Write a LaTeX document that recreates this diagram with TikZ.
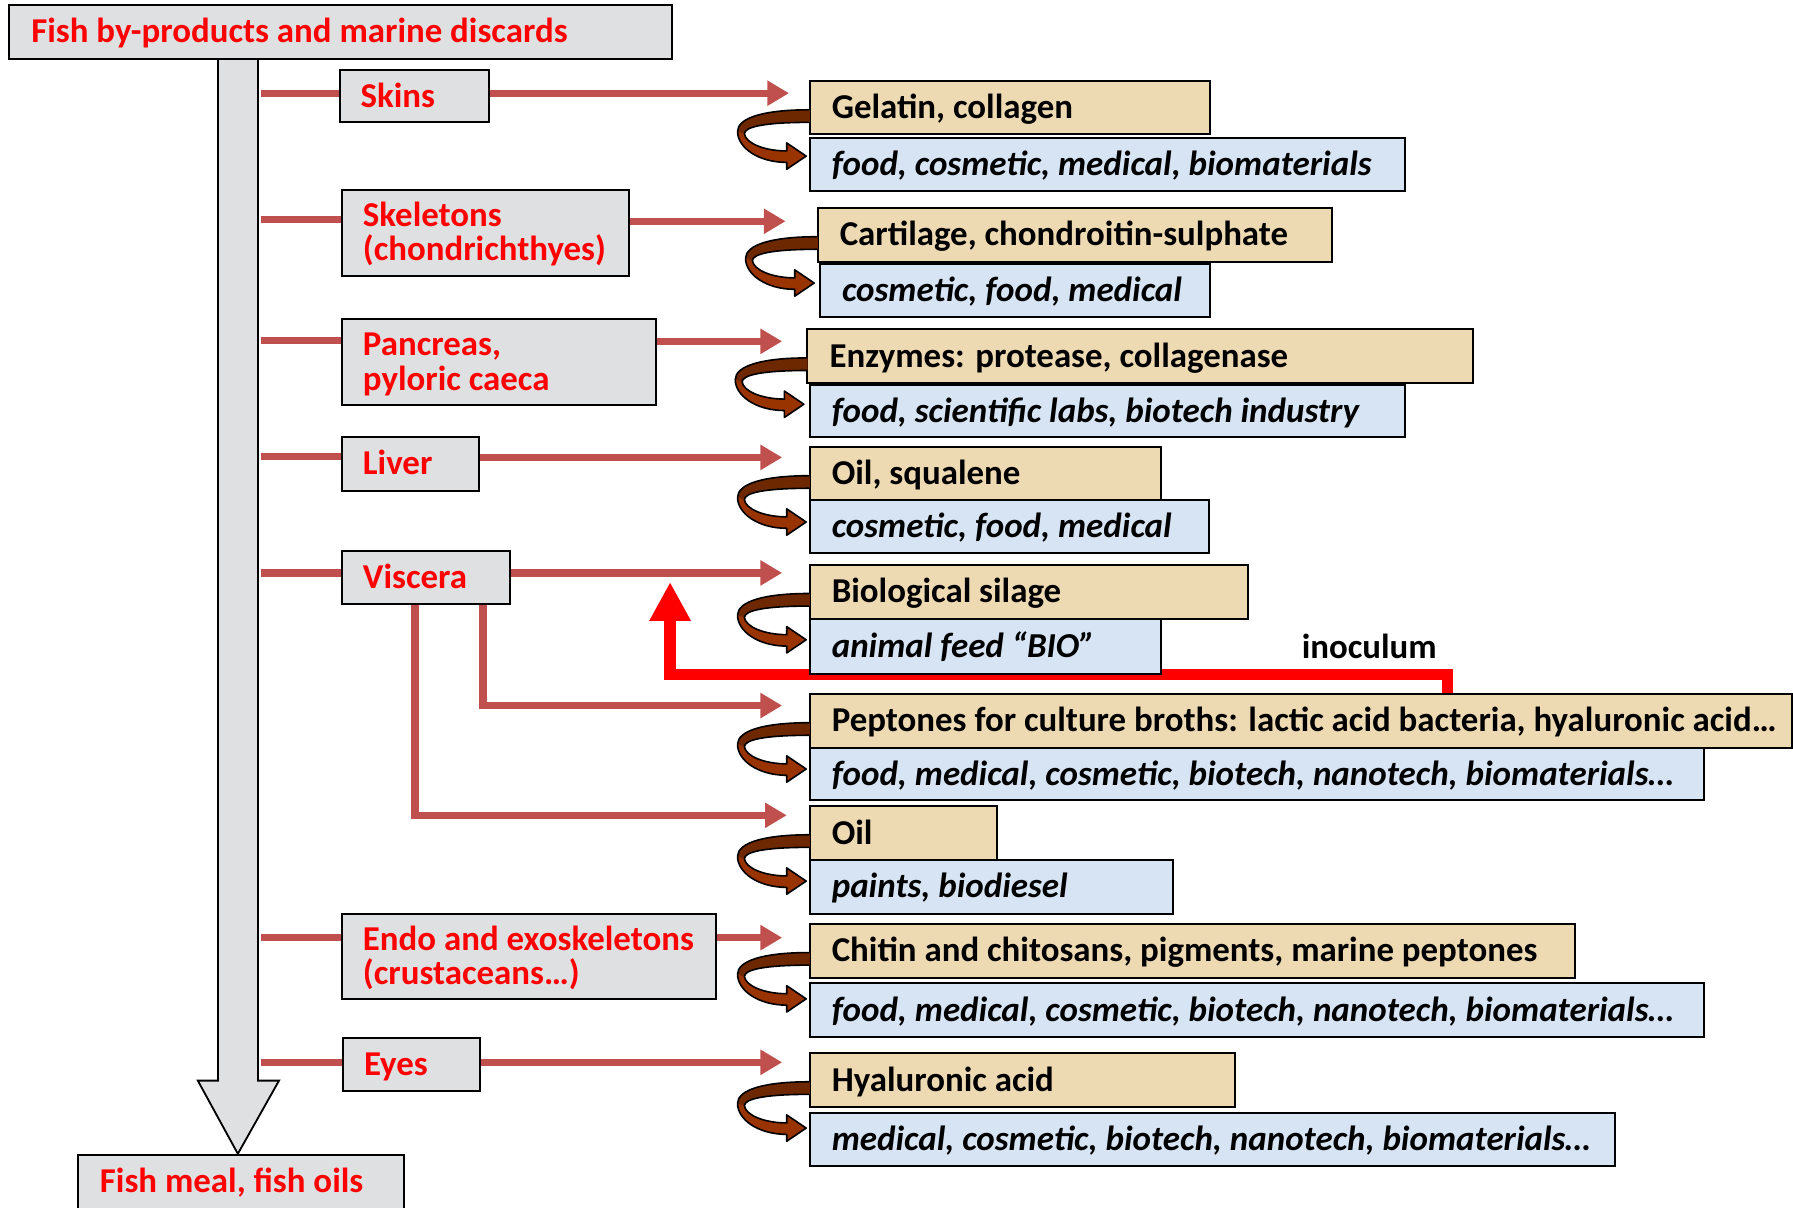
\documentclass[tikz,border=0pt]{standalone}
\usepackage{fontspec}
\setmainfont{Carlito}
\usetikzlibrary{fit,arrows.meta}
\definecolor{marble}{HTML}{DFE0E2}
\definecolor{tanbox}{HTML}{EDDAB3}
\definecolor{bluebox}{HTML}{D6E4F4}
\definecolor{linered}{HTML}{C0504D}
\definecolor{curldark}{HTML}{6E2800}
\definecolor{curllight}{HTML}{993300}
\tikzset{
  box/.style={draw=black, line width=0.9pt, inner sep=0pt},
  graybox/.style={box, fill=marble},
  tanb/.style={box, fill=tanbox},
  blueb/.style={box, fill=bluebox},
  txt/.style={anchor=west, inner sep=0pt, text height=9.6pt, text depth=0pt,
    font=\fontsize{15.25}{15}\selectfont\bfseries},
  redt/.style={txt, text=red},
  blkt/.style={txt, text=black},
  itt/.style={txt, text=black, font=\fontsize{15.3}{15}\selectfont\bfseries\itshape},
  conn/.style={draw=linered, line width=3.2pt},
  conna/.style={conn, -{Triangle[length=9.5pt,width=10.5pt]}},
  inoc/.style={draw=red, line width=5pt, line join=miter, -{Triangle[length=17pt,width=17pt]}},
  curl/.pic={
    \fill[curllight] (0,25) .. controls (-40,25) and (-63,32) .. (-63,44)
      .. controls (-63,58) and (-45,71) .. (-20,71) -- (-20,77) -- (-3,65.5) -- (-20,54) -- (-20,61)
      .. controls (-40,61) and (-56,54) .. (-57,46)
      .. controls (-57,40) and (-40,36) .. (0,36) -- cycle;
    \fill[curldark] (0,25) .. controls (-40,25) and (-63,32) .. (-63,44) -- (-57,46)
      .. controls (-57,40) and (-40,36) .. (0,36) -- cycle;
    \draw[black, line width=0.7pt, line join=round] (0,25) .. controls (-40,25) and (-63,32) .. (-63,44)
      .. controls (-63,58) and (-45,71) .. (-20,71) -- (-20,77) -- (-3,65.5) -- (-20,54) -- (-20,61)
      .. controls (-40,61) and (-56,54) .. (-57,46)
      .. controls (-57,40) and (-40,36) .. (0,36);
  }
}
\begin{document}
\begin{tikzpicture}[x=0.5pt, y=-0.5pt]
\useasboundingbox (0,0) rectangle (1568,1056);

% main down arrow
\filldraw[fill=marble, draw=black, line width=0.8pt, line join=miter]
  (190.6,51) -- (190.6,945) -- (173,945) -- (208,1009) -- (244,945) -- (225.6,945) -- (225.6,51) -- cycle;

% coordinates
\coordinate (bS) at (228,81.5);  \coordinate (tS) at (690,81.5);
\coordinate (bK) at (228,192);   \coordinate (tK) at (687,193.5);
\coordinate (bP) at (228,297.5); \coordinate (tP) at (684,298.5);
\coordinate (bL) at (228,399.5); \coordinate (tL) at (684,400);
\coordinate (bV) at (228,501);   \coordinate (tV) at (684,501);
\coordinate (vF) at (422.5,0);   \coordinate (tF) at (684,617);
\coordinate (vG) at (363,0);     \coordinate (tG) at (688,713);
\coordinate (bN) at (228,820);   \coordinate (tN) at (684,820);
\coordinate (bY) at (228,929);   \coordinate (tY) at (684,929);
\coordinate (inB) at (1266,590); \coordinate (inTip) at (586,509);

% left gray boxes
\node[graybox, fit={(8,4.5) (588,51.5)}] (top) {};
\node[graybox, fit={(68,1010) (353,1065)}] (bottom) {};
\node[graybox, fit={(297,61) (428,107)}] (skins) {};
\node[graybox, fit={(299,166) (550,241)}] (skel) {};
\node[graybox, fit={(299,279) (574,354)}] (panc) {};
\node[graybox, fit={(299,382) (419,429)}] (liver) {};
\node[graybox, fit={(299,482) (446,528)}] (visc) {};
\node[graybox, fit={(299,799) (626,874)}] (endo) {};
\node[graybox, fit={(300,908) (420,954)}] (eyes) {};

% connectors
\draw[conn] (bS) -- (bS -| skins.west);  \draw[conna] (tS -| skins.east) -- (tS);
\draw[conn] (bK) -- (bK -| skel.west);   \draw[conna] (tK -| skel.east) -- (tK);
\draw[conn] (bP) -- (bP -| panc.west);   \draw[conna] (tP -| panc.east) -- (tP);
\draw[conn] (bL) -- (bL -| liver.west);  \draw[conna] (tL -| liver.east) -- (tL);
\draw[conn] (bV) -- (bV -| visc.west);   \draw[conna] (tV -| visc.east) -- (tV);
\draw[conna] (vF |- visc.south) |- (tF);
\draw[conna] (vG |- visc.south) |- (tG);
\draw[conn] (bN) -- (bN -| endo.west);   \draw[conna] (tN -| endo.east) -- (tN);
\draw[conn] (bY) -- (bY -| eyes.west);   \draw[conna] (tY -| eyes.east) -- (tY);

% right boxes (tan = product, blue = use)
\node[tanb, fit={(708,71) (1058,117)}] (pA) {};
\node[blueb, fit={(708,121) (1229,167)}] (uA) {};
\node[tanb, fit={(715,182) (1165,229)}] (pB) {};
\node[blueb, fit={(717,231) (1058,277)}] (uB) {};
\node[tanb, fit={(706,288) (1288,335)}] (pC) {};
\node[blueb, fit={(708,337) (1229,382)}] (uC) {};
\node[tanb, fit={(708,391) (1015,437)}] (pD) {};
\node[blueb, fit={(708,437) (1057,484)}] (uD) {};
\node[tanb, fit={(708,494) (1091,541)}] (pE) {};
\node[tanb, fit={(708,607) (1567,654)}] (pF) {};

% inoculum feedback (behind the silage use box)
\draw[inoc] (inB |- pF.north) -- (inB) -| (inTip);

\node[blueb, fit={(708,541) (1015,589)}] (uE) {};
\node[blueb, fit={(708,654) (1490,700)}] (uF) {};
\node[tanb, fit={(708,705) (872,752)}] (pG) {};
\node[blueb, fit={(708,752) (1026,799)}] (uG) {};
\node[tanb, fit={(708,808) (1377,855)}] (pH) {};
\node[blueb, fit={(708,860) (1490,907)}] (uH) {};
\node[tanb, fit={(708,921) (1080,968)}] (pI) {};
\node[blueb, fit={(708,973) (1412,1020)}] (uI) {};

% left texts
\node[redt] (topT) at (27,27.5) {Fish by-products and marine discards};
\node[redt] (botT) at (87,1033) {Fish meal, fish oils};
\node[redt] (skinsT) at (315,84) {Skins};
\node[redt] (skelT1) at (317,188.5) {Skeletons};
\node[redt] (skelT2) at (317,218.5) {(chondrichthyes)};
\node[redt] (pancT1) at (317,301.5) {Pancreas,};
\node[redt] (pancT2) at (317,331.5) {pyloric caeca};
\node[redt] (liverT) at (317,405.5) {Liver};
\node[redt] (viscT) at (317,505) {Viscera};
\node[redt] (endoT1) at (317,821.5) {Endo and exoskeletons};
\node[redt] (endoT2) at (317,851.5) {(crustaceans…)};
\node[redt] (eyesT) at (318,931) {Eyes};

% right texts
\node[blkt] (pAT) at (727,94) {Gelatin, collagen};
\node[itt]  (uAT) at (727,144) {food, cosmetic, medical, biomaterials};
\node[blkt] (pBT) at (734,205.5) {Cartilage, chondroitin-sulphate};
\node[itt]  (uBT) at (736,254) {cosmetic, food, medical};
\node[blkt] (pCT) at (725,311.5) {Enzymes: protease, collagenase};
\node[itt]  (uCT) at (727,359.5) {food, scientific labs, biotech industry};
\node[blkt] (pDT) at (727,414) {Oil, squalene};
\node[itt]  (uDT) at (727,460.5) {cosmetic, food, medical};
\node[blkt] (pET) at (727,517.5) {Biological silage};
\node[itt]  (uET) at (727,565) {animal feed “BIO”};
\node[blkt] (pFT) at (727,630.5) {Peptones for culture broths: lactic acid bacteria, hyaluronic acid…};
\node[itt]  (uFT) at (727,677) {food, medical, cosmetic, biotech, nanotech, biomaterials…};
\node[blkt] (pGT) at (727,728.5) {Oil};
\node[itt]  (uGT) at (727,775.5) {paints, biodiesel};
\node[blkt] (pHT) at (727,831.5) {Chitin and chitosans, pigments, marine peptones};
\node[itt]  (uHT) at (727,883.5) {food, medical, cosmetic, biotech, nanotech, biomaterials…};
\node[blkt] (pIT) at (727,944.5) {Hyaluronic acid};
\node[itt]  (uIT) at (727,996.5) {medical, cosmetic, biotech, nanotech, biomaterials…};
\node[blkt] (inocT) at (1138,566.5) {inoculum};

% curved arrows
\pic at (708,71) {curl};
\pic at (715,182) {curl};
\pic at (706,288) {curl};
\pic at (708,391) {curl};
\pic at (708,494) {curl};
\pic at (708,607) {curl};
\pic at (708,705) {curl};
\pic at (708,808) {curl};
\pic at (708,921) {curl};
\end{tikzpicture}
\end{document}
